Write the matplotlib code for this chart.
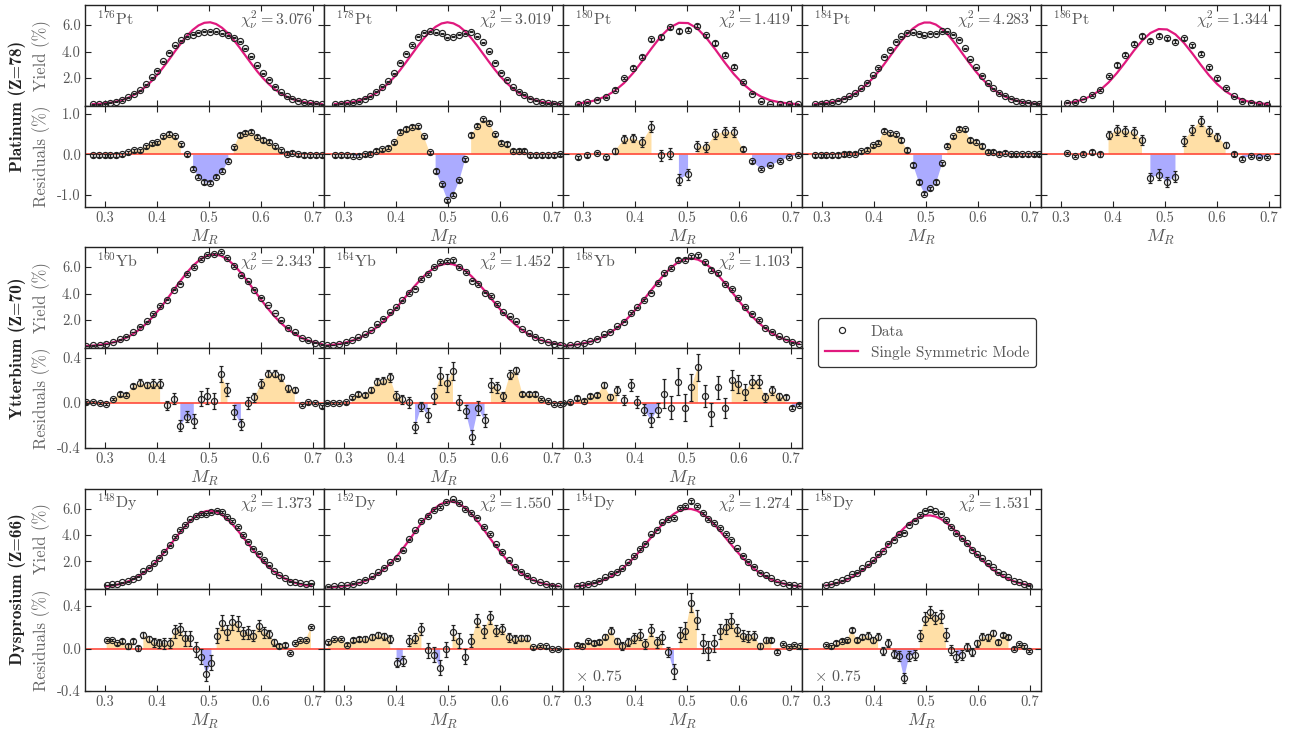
import numpy as np
import matplotlib.pyplot as plt
from matplotlib.lines import Line2D
from matplotlib.ticker import FormatStrFormatter, FixedLocator

plt.rcParams['font.family'] = 'cmr10'
plt.rcParams['mathtext.fontset'] = 'cm'
plt.rcParams['axes.unicode_minus'] = False

# ---- data: fit curve (model) and residuals at each mass-ratio bin ----
pt176_model = [0.04,0.06,0.10,0.15,0.24,0.35,0.51,0.73,1.00,1.35,1.77,2.26,2.81,3.40,4.02,4.61,5.16,5.62,5.96,6.16,
               6.20,6.07,5.79,5.39,4.87,4.30,3.69,3.09,2.51,1.99,1.54,1.16,0.85,0.61,0.42,0.29,0.19,0.12,0.08,0.05]
pt176_resid = [-0.02,-0.02,-0.02,-0.02,-0.01,0.00,0.05,0.10,0.10,0.20,0.28,0.30,0.45,0.51,0.45,0.25,0.00,-0.35,-0.55,-0.68,
               -0.70,-0.55,-0.40,-0.15,0.18,0.48,0.54,0.56,0.44,0.36,0.32,0.20,0.10,0.02,0.04,0.00,-0.01,-0.02,-0.02,-0.02]
pt176_err = 0.04

pt178_model = [0.05,0.08,0.13,0.20,0.30,0.44,0.63,0.88,1.21,1.60,2.07,2.60,3.19,3.80,4.41,4.98,5.48,5.86,6.11,6.20,
               6.12,5.89,5.51,5.02,4.45,3.84,3.23,2.64,2.10,1.63,1.23,0.90,0.65,0.45,0.31,0.20,0.13,0.08,0.05]
pt178_resid = [-0.02,-0.02,-0.02,-0.03,-0.03,0.00,0.02,0.09,0.13,0.17,0.30,0.56,0.63,0.69,0.70,0.45,0.05,-0.41,-0.74,-1.13,
               -1.00,-0.64,-0.12,0.48,0.71,0.87,0.79,0.50,0.29,0.26,0.09,0.09,0.09,-0.02,-0.02,-0.02,-0.02,-0.02,0.00]
pt178_err = 0.04

pt180_model = [0.09,0.19,0.35,0.63,1.05,1.63,2.39,3.29,4.23,5.12,5.80,6.16,6.14,5.74,5.03,4.14,3.19,2.31,1.57,1.00,
               0.60,0.33,0.18,0.09,0.04]
pt180_resid = [-0.07,-0.02,0.03,-0.07,0.09,0.38,0.40,0.31,0.69,-0.02,0.02,-0.62,-0.49,0.21,0.19,0.50,0.56,0.55,0.13,-0.17,
               -0.36,-0.27,-0.16,-0.06,-0.02]
pt180_err = [0.03,0.03,0.03,0.04,0.08,0.10,0.10,0.12,0.13,0.13,0.13,0.13,0.13,0.13,0.13,0.12,0.12,0.12,0.05,0.04,
             0.02,0.02,0.02,0.02,0.02]

pt184_model = [0.05,0.08,0.13,0.20,0.29,0.43,0.61,0.85,1.16,1.53,1.97,2.47,3.03,3.62,4.22,4.79,5.30,5.72,6.02,6.18,
               6.18,6.03,5.73,5.31,4.80,4.23,3.63,3.04,2.48,1.98,1.54,1.16,0.86,0.62,0.43,0.30,0.20,0.13,0.08,0.05]
pt184_resid = [-0.02,-0.02,-0.02,-0.02,-0.01,0.01,0.02,0.02,0.08,0.12,0.23,0.29,0.59,0.52,0.50,0.36,0.11,-0.26,-0.68,-0.97,
               -0.84,-0.68,-0.22,0.22,0.45,0.64,0.62,0.36,0.32,0.21,0.07,0.07,0.02,0.04,0.00,0.00,0.00,0.00,0.00,0.00]
pt184_err = 0.04

pt186_model = [0.11,0.22,0.40,0.68,1.10,1.67,2.38,3.19,4.04,4.81,5.39,5.69,5.66,5.29,4.66,3.87,3.02,2.22,1.54,1.00,
               0.62,0.36,0.19,0.10,0.05]
pt186_resid = [0.04,-0.04,0.02,0.05,0.00,0.48,0.60,0.58,0.55,0.36,-0.58,-0.50,-0.68,-0.55,0.33,0.60,0.83,0.58,0.44,0.23,
               0.02,-0.10,-0.03,-0.07,-0.06]
pt186_err = [0.03,0.03,0.03,0.05,0.06,0.10,0.12,0.13,0.13,0.13,0.13,0.13,0.13,0.13,0.13,0.13,0.13,0.12,0.10,0.07,
             0.05,0.03,0.02,0.02,0.02]

yb160_model = [0.05,0.08,0.13,0.21,0.32,0.47,0.68,0.96,1.32,1.76,2.29,2.89,3.55,4.25,4.94,5.59,6.15,6.58,6.86,6.95,
               6.85,6.57,6.13,5.56,4.92,4.22,3.53,2.87,2.27,1.75,1.31,0.95,0.67,0.46,0.31,0.20]
yb160_resid = [0.005,0.01,0.0,-0.01,0.035,0.08,0.075,0.15,0.18,0.16,0.17,0.17,-0.02,0.04,-0.20,-0.12,-0.16,0.04,0.06,0.02,
               0.26,0.12,-0.08,-0.19,0.0,0.05,0.17,0.26,0.26,0.23,0.13,0.12,-0.015,0.005,0.0,-0.03]
yb160_err = [0.01,0.01,0.01,0.01,0.01,0.015,0.015,0.02,0.03,0.03,0.04,0.04,0.04,0.05,0.05,0.05,0.06,0.07,0.07,0.07,
             0.07,0.06,0.06,0.05,0.05,0.04,0.04,0.03,0.03,0.03,0.03,0.02,0.01,0.01,0.01,0.01]

yb164_model = [0.09,0.14,0.21,0.31,0.44,0.62,0.85,1.13,1.48,1.89,2.37,2.90,3.46,4.03,4.59,5.12,5.57,5.92,6.15,6.25,
               6.20,6.01,5.70,5.27,4.77,4.22,3.64,3.07,2.53,2.04,1.61,1.24,0.93,0.68,0.49,0.34,0.24,0.16]
yb164_resid = [0.0,0.0,0.0,0.005,0.05,0.08,0.07,0.12,0.19,0.20,0.23,0.065,0.035,0.005,-0.215,-0.03,-0.105,0.06,0.24,0.18,
               0.285,0.005,-0.075,-0.30,-0.045,-0.155,0.16,0.14,0.06,0.25,0.29,0.08,0.08,0.08,0.035,0.02,-0.01,-0.01]
yb164_err = [0.01,0.01,0.01,0.01,0.015,0.02,0.02,0.02,0.03,0.03,0.04,0.04,0.04,0.05,0.05,0.04,0.06,0.07,0.08,0.08,
             0.08,0.07,0.06,0.06,0.06,0.06,0.06,0.05,0.04,0.04,0.03,0.02,0.02,0.02,0.01,0.01,0.01,0.01]

yb168_model = [0.07,0.10,0.16,0.25,0.37,0.54,0.77,1.06,1.42,1.86,2.37,2.95,3.57,4.22,4.85,5.44,5.95,6.34,6.58,6.65,
               6.55,6.29,5.89,5.37,4.78,4.14,3.49,2.87,2.30,1.80,1.37,1.01,0.73,0.52,0.36,0.24]
yb168_resid = [0.0,0.005,0.045,0.02,0.065,0.07,0.16,0.055,0.115,0.025,0.16,0.01,-0.06,-0.15,-0.06,0.085,-0.04,0.19,-0.04,0.14,
               0.32,0.065,-0.10,0.14,-0.045,0.205,0.17,0.10,0.19,0.19,0.05,0.115,0.06,0.05,-0.04,-0.015]
yb168_err = [0.01,0.01,0.015,0.015,0.02,0.02,0.03,0.03,0.04,0.045,0.05,0.05,0.05,0.06,0.06,0.13,0.10,0.12,0.12,0.12,
             0.12,0.10,0.10,0.10,0.09,0.09,0.08,0.07,0.06,0.06,0.04,0.04,0.03,0.02,0.01,0.01]

dy148_model = [0.11,0.16,0.23,0.33,0.46,0.63,0.84,1.11,1.42,1.79,2.22,2.68,3.18,3.69,4.19,4.67,5.09,5.43,5.68,5.82,
               5.85,5.74,5.53,5.21,4.82,4.36,3.86,3.35,2.85,2.37,1.94,1.55,1.21,0.93,0.70,0.51,0.37,0.26,0.18,0.12]
dy148_resid = [0.083,0.083,0.048,0.073,0.019,0.067,0.003,0.127,0.092,0.057,0.048,0.048,0.051,0.162,0.184,0.095,0.098,-0.006,-0.076,-0.238,
               -0.133,0.121,0.241,0.152,0.248,0.232,0.146,0.152,0.121,0.216,0.152,0.137,0.057,0.025,0.032,-0.044,0.051,0.079,0.079,0.20]
dy148_err = [0.01,0.01,0.015,0.02,0.02,0.02,0.025,0.03,0.03,0.04,0.04,0.05,0.05,0.06,0.06,0.07,0.07,0.07,0.07,0.07,
             0.07,0.07,0.07,0.07,0.07,0.07,0.06,0.06,0.05,0.05,0.05,0.04,0.03,0.02,0.02,0.01,0.01,0.01,0.01,0.01]

dy152_model = [0.03,0.06,0.09,0.15,0.23,0.35,0.52,0.74,1.04,1.40,1.85,2.37,2.96,3.60,4.26,4.90,5.48,5.97,6.33,6.52,
               6.55,6.39,6.08,5.62,5.06,4.43,3.77,3.13,2.52,1.98,1.51,1.12,0.81,0.57,0.39,0.26,0.17,0.11]
dy152_resid = [0.057,0.089,0.089,0.035,0.079,0.089,0.089,0.111,0.127,0.114,0.089,-0.133,-0.117,0.073,0.098,0.184,-0.016,-0.06,-0.181,-0.006,
               0.152,0.073,-0.079,0.073,0.263,0.162,0.295,0.168,0.184,0.105,0.089,0.098,0.098,0.01,0.025,0.019,-0.006,-0.006]
dy152_err = [0.01,0.01,0.01,0.015,0.02,0.02,0.025,0.03,0.03,0.035,0.04,0.04,0.045,0.05,0.05,0.06,0.07,0.07,0.07,0.07,
             0.07,0.07,0.07,0.06,0.06,0.06,0.06,0.05,0.05,0.04,0.04,0.03,0.03,0.01,0.01,0.01,0.01,0.01]

dy154_model = [0.10,0.15,0.22,0.32,0.45,0.63,0.85,1.12,1.45,1.84,2.28,2.76,3.28,3.81,4.34,4.83,5.26,5.61,5.86,5.98,
               5.98,5.86,5.61,5.26,4.82,4.33,3.80,3.27,2.75,2.27,1.83,1.44,1.11,0.84,0.62,0.45,0.32,0.22,0.15,0.10]
dy154_resid = [0.035,0.025,0.067,0.051,0.063,0.111,0.168,0.073,0.025,0.063,0.098,0.13,0.041,0.175,0.057,0.105,-0.032,-0.213,0.13,0.168,
               0.429,0.27,0.051,-0.016,0.048,0.162,0.206,0.263,0.175,0.121,0.111,0.121,0.025,0.079,0.079,-0.029,0.041,0.016,0.032,0.019]
dy154_err = [0.015,0.015,0.015,0.02,0.02,0.025,0.03,0.03,0.035,0.04,0.045,0.05,0.05,0.055,0.055,0.06,0.045,0.07,0.07,0.08,
             0.09,0.09,0.09,0.09,0.08,0.07,0.07,0.07,0.06,0.05,0.05,0.04,0.03,0.03,0.02,0.015,0.01,0.01,0.01,0.01]

dy158_model = [0.17,0.24,0.34,0.46,0.61,0.80,1.04,1.31,1.63,1.99,2.39,2.82,3.26,3.71,4.14,4.54,4.89,5.17,5.37,5.48,
               5.49,5.41,5.23,4.96,4.63,4.24,3.82,3.37,2.93,2.49,2.09,1.72,1.38,1.10,0.86,0.66,0.49,0.36,0.26,0.19]
dy158_resid = [0.032,0.019,0.051,0.073,0.079,0.175,0.079,0.111,0.121,0.079,0.111,-0.022,0.051,-0.054,-0.07,-0.276,-0.07,-0.06,0.121,0.279,
               0.343,0.286,0.302,0.13,-0.013,-0.076,-0.06,0.016,-0.032,0.048,0.111,0.105,0.143,0.057,0.13,0.105,0.0,0.041,0.019,-0.022]
dy158_err = [0.01,0.01,0.015,0.015,0.015,0.02,0.02,0.025,0.03,0.03,0.035,0.035,0.04,0.04,0.045,0.05,0.05,0.05,0.05,0.06,
             0.06,0.06,0.06,0.06,0.05,0.05,0.05,0.04,0.04,0.035,0.035,0.03,0.03,0.025,0.02,0.02,0.01,0.01,0.01,0.01]

# (mass, symbol, chi2, row, col, first bin, bin width, model, resid, err, residual scale)
panels = [
    ("176", "Pt", "3.076", 0, 0, 0.277, 0.0113, pt176_model, pt176_resid, pt176_err, 1.0),
    ("178", "Pt", "3.019", 0, 1, 0.283, 0.0114, pt178_model, pt178_resid, pt178_err, 1.0),
    ("180", "Pt", "1.419", 0, 2, 0.2915, 0.0176, pt180_model, pt180_resid, pt180_err, 1.0),
    ("184", "Pt", "4.283", 0, 3, 0.287, 0.01107, pt184_model, pt184_resid, pt184_err, 1.0),
    ("186", "Pt", "1.344", 0, 4, 0.3115, 0.0161, pt186_model, pt186_resid, pt186_err, 1.0),
    ("160", "Yb", "2.343", 1, 0, 0.264, 0.01296, yb160_model, yb160_resid, yb160_err, 1.0),
    ("164", "Yb", "1.452", 1, 1, 0.267, 0.01216, yb164_model, yb164_resid, yb164_err, 1.0),
    ("168", "Yb", "1.103", 1, 2, 0.2626, 0.01296, yb168_model, yb168_resid, yb168_err, 1.0),
    ("148", "Dy", "1.373", 2, 0, 0.3037, 0.01008, dy148_model, dy148_resid, dy148_err, 1.0),
    ("152", "Dy", "1.550", 2, 1, 0.270, 0.01197, dy152_model, dy152_resid, dy152_err, 1.0),
    ("154", "Dy", "1.274", 2, 2, 0.288, 0.01103, dy154_model, dy154_resid, dy154_err, 0.75),
    ("158", "Dy", "1.531", 2, 3, 0.308, 0.01004, dy158_model, dy158_resid, dy158_err, 0.75),
]

row_names = ["Platinum (Z=78)", "Ytterbium (Z=70)", "Dysprosium (Z=66)"]
resid_lims = [(-1.3, 1.2), (-0.4, 0.49), (-0.4, 0.56)]
resid_ticks = [[-1.0, 0.0, 1.0], [-0.4, 0.0, 0.4], [-0.4, 0.0, 0.4]]
yield_ticks = [2.0, 4.0, 6.0]
x_ticks = [0.3, 0.4, 0.5, 0.6, 0.7]

# ---- layout (pixels) ----
W, H = 1299, 731
col_left = [85, 324, 563, 802, 1041]
col_w = 239
row_px = [(5, 106, 207), (247, 348, 448), (489, 589, 691)]

PINK = '#E0197E'
RED = '#FF4A3D'
INK = '#222222'
GREY = '#555555'

fig = plt.figure(figsize=(W / 100, H / 100), dpi=100)


def style(ax):
    ax.set_xlim(0.262, 0.722)
    ax.xaxis.set_major_locator(FixedLocator(x_ticks))
    ax.xaxis.set_major_formatter(FormatStrFormatter('%.1f'))
    ax.yaxis.set_major_formatter(FormatStrFormatter('%.1f'))
    ax.tick_params(direction='in', top=True, right=True, length=4, width=0.8,
                   color=INK, labelsize=10.5, labelcolor=GREY, pad=3)
    for s in ax.spines.values():
        s.set_linewidth(1.0)
        s.set_color(INK)


for mass, sym, chi2, r, c, x0, dx, model, resid, err, scale in panels:
    top, mid, bot = row_px[r]
    L = col_left[c]
    ax_y = fig.add_axes([L / W, 1 - mid / H, col_w / W, (mid - top) / H])
    ax_r = fig.add_axes([L / W, 1 - bot / H, col_w / W, (bot - mid) / H])
    style(ax_y)
    style(ax_r)

    model = np.array(model)
    resid = np.array(resid)
    errs = np.broadcast_to(np.asarray(err, dtype=float), resid.shape)
    x = x0 + dx * np.arange(len(model))
    data = model + resid / scale

    ax_y.plot(x, model, color=PINK, lw=1.6, zorder=2)
    ax_y.errorbar(x, data, yerr=errs, fmt='o', ms=4.4, mfc='none', mec=INK, mew=0.85,
                  ecolor=INK, elinewidth=0.9, capsize=1.7, capthick=0.9, zorder=3)
    ax_y.set_ylim(-0.1, 7.5)
    ax_y.set_yticks(yield_ticks)
    ax_y.tick_params(labelbottom=False)
    ax_y.text(0.05, 0.865, rf'$^{{{mass}}}$' + sym, transform=ax_y.transAxes,
              fontsize=11.5, color=GREY, ha='left', va='center')
    ax_y.text(0.955, 0.855, rf'$\chi^2_\nu = {chi2}$', transform=ax_y.transAxes,
              fontsize=11.5, color=GREY, ha='right', va='center')

    sig = np.abs(resid) > 0.7 * errs
    ax_r.fill_between(x, 0, resid, where=sig & (resid > 0), color='orange', alpha=0.35, lw=0, zorder=0)
    ax_r.fill_between(x, 0, resid, where=sig & (resid < 0), color='blue', alpha=0.33, lw=0, zorder=0)
    ax_r.axhline(0, color=RED, lw=1.2, zorder=1)
    ax_r.errorbar(x, resid, yerr=errs, fmt='o', ms=4.4, mfc='none', mec=INK, mew=0.85,
                  ecolor=INK, elinewidth=1.0, capsize=1.7, capthick=1.0, zorder=3)
    ax_r.set_ylim(*resid_lims[r])
    ax_r.set_yticks(resid_ticks[r])
    ax_r.set_xlabel(r'$M_R$', fontsize=13, color=GREY, labelpad=2)
    if scale != 1.0:
        ax_r.text(0.05, 0.14, r'$\times$ ' + f'{scale:.2f}', transform=ax_r.transAxes,
                  fontsize=11.5, color=GREY, ha='left', va='center')

    if c == 0:
        ax_y.set_ylabel('Yield (%)', fontsize=12, color='#666666')
        ax_r.set_ylabel('Residuals (%)', fontsize=12, color='#666666')
        ax_y.yaxis.set_label_coords(-0.142, 0.5)
        ax_r.yaxis.set_label_coords(-0.142, 0.5)
    else:
        ax_y.tick_params(labelleft=False)
        ax_r.tick_params(labelleft=False)

for r, name in enumerate(row_names):
    fig.text(17 / W, 1 - row_px[r][1] / H, name, rotation=90, ha='center', va='center',
             fontsize=12.5, family='cmb10', color=INK)

handles = [Line2D([], [], marker='o', ls='none', ms=4.4, mfc='none', mec=INK, mew=0.85),
           Line2D([], [], color=PINK, lw=1.6)]
leg = fig.legend(handles, ['Data', 'Single Symmetric Mode'], loc='upper left',
                 bbox_to_anchor=(818 / W, 1 - 318 / H), fontsize=11, frameon=True,
                 fancybox=True, framealpha=1, edgecolor='#333333', handlelength=2.2,
                 handletextpad=0.8, labelspacing=0.45, borderpad=0.45, borderaxespad=0)
for t in leg.get_texts():
    t.set_color(GREY)
leg.get_frame().set_linewidth(0.9)

fig.savefig('out.png', dpi=100)
